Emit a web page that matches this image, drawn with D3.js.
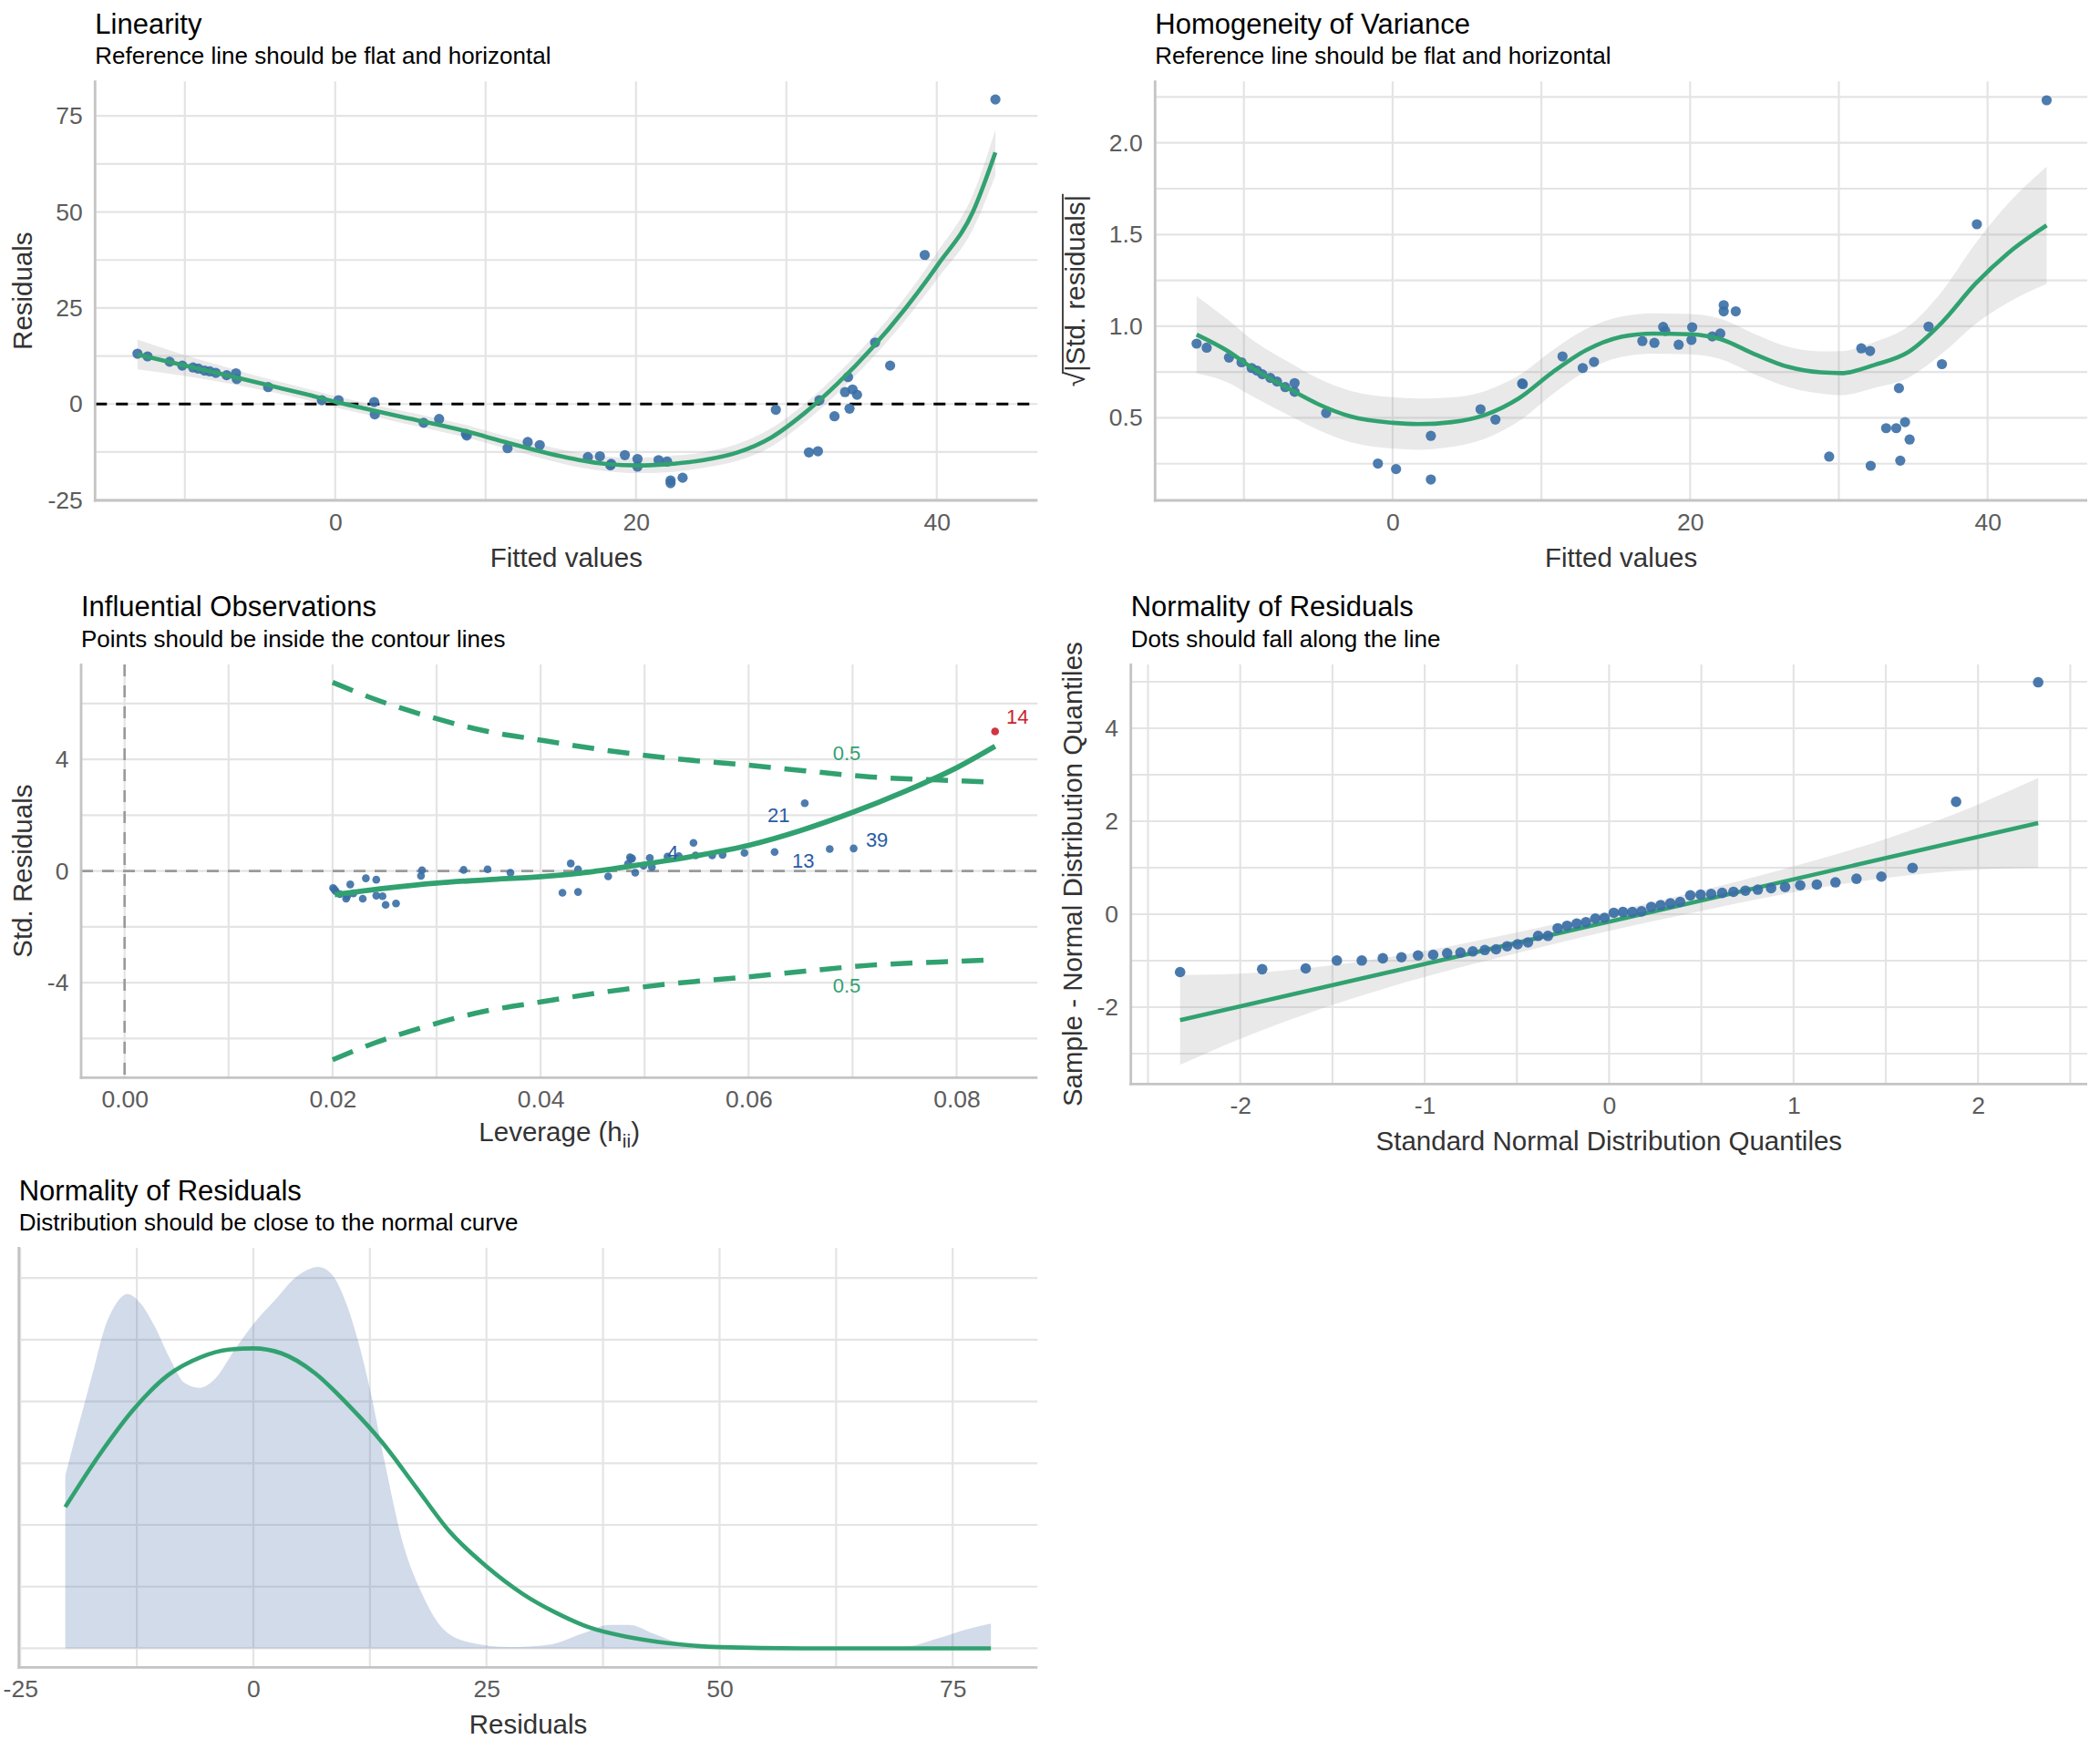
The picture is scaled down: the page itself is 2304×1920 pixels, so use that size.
<!DOCTYPE html>
<html><head><meta charset="utf-8">
<script src="https://cdn.jsdelivr.net/npm/d3@7"></script>
<style>body{margin:0;background:#fff}svg{display:block}</style>
</head><body>
<svg id="c" width="2304" height="1920"></svg>
<script>
// ---------- DATA ----------
// Panel 1: Linearity
const linFitted = [-13.15,-12.48,-11.01,-10.17,-9.45,-9.1,-8.69,-8.34,-7.94,-7.22,-6.6,-6.55,-4.46,-0.89,0.22,2.59,2.63,5.88,6.91,8.69,8.75,11.46,12.8,13.6,16.8,17.6,18.3,18.35,19.26,20.1,20.1,21.5,22.07,22.3,22.3,23.1,29.3,31.5,32.1,32.2,33.2,33.9,34.1,34.2,34.4,34.7,35.9,36.9,39.2,43.9];
const linResid = [13.1,12.4,11.0,10.0,9.5,9.2,8.7,8.5,8.1,7.5,8.0,6.5,4.4,1.0,1.0,0.5,-2.7,-4.9,-3.9,-7.8,-8.2,-11.5,-9.9,-10.7,-13.8,-13.6,-16.0,-15.6,-13.3,-14.3,-16.3,-14.6,-15.0,-19.9,-20.6,-19.2,-1.5,-12.6,-12.3,1.0,-3.2,3.1,7.0,-1.2,3.8,2.4,16.0,10.0,38.8,79.3];
const linSmX = [-13.15,-10,-7,-4.46,-2,0,2,4.46,6.5,8.9,11,13.4,15,16.5,18,20.1,22,24.5,26.75,29,31.2,33.4,35.7,37.9,40.1,42.4,43.9];
const linSmY = [12.9,10.0,7.3,4.9,2.6,0.6,-1.2,-3.4,-5.1,-7.3,-9.6,-12.1,-13.6,-14.8,-15.6,-16.0,-15.7,-14.6,-12.6,-8.7,-2.4,5.3,14.6,24.8,36.4,50.0,65.5];
const linSmLo = [9.0,7.3,5.3,3.3,1.1,-0.9,-2.7,-5.0,-6.7,-8.9,-11.2,-13.8,-15.4,-16.7,-17.5,-18.0,-17.8,-16.6,-14.8,-11.1,-4.8,2.8,11.9,21.8,32.9,45.5,59.5];
const linSmHi = [16.8,12.7,9.3,6.5,4.1,2.1,0.3,-1.8,-3.5,-5.7,-8.0,-10.4,-11.8,-12.9,-13.7,-14.0,-13.6,-12.6,-10.4,-6.3,0.0,7.8,17.3,27.8,39.9,54.5,71.4];
const linXTicks = [0,20,40], linXMinor = [-10,10,30];
const linYTicks = [-25,0,25,50,75], linYMinor = [-12.5,12.5,37.5,62.5];

// Panel 2: Homogeneity of variance
const homFitted = [-13.18,-12.5,-11.0,-10.16,-9.48,-9.12,-8.76,-8.22,-7.77,-7.22,-6.59,-6.59,-4.47,-0.99,0.23,2.57,2.57,5.91,6.91,8.71,8.75,11.42,12.78,13.54,16.79,17.6,18.19,18.33,19.23,20.09,20.14,21.49,22.03,22.26,22.26,23.07,29.35,31.51,32.1,32.14,33.18,33.86,34.04,34.13,34.45,34.76,36.03,36.93,39.28,43.97];
const homSqrt = [0.905,0.883,0.829,0.803,0.772,0.758,0.738,0.718,0.698,0.668,0.690,0.642,0.527,0.251,0.221,0.402,0.164,0.547,0.491,0.688,0.684,0.835,0.772,0.805,0.919,0.909,0.996,0.974,0.899,0.925,0.994,0.944,0.96,1.115,1.081,1.081,0.289,0.879,0.865,0.239,0.444,0.444,0.662,0.267,0.477,0.382,0.998,0.793,1.556,2.232];
const homSmX = [-13.18,-11,-9.57,-7,-5.06,-2.8,0,1.72,3.97,6.23,8.49,10.74,13,15.26,17.52,20,22.03,24.3,26.55,28.8,30.16,32.4,34.67,36.93,39.19,41.4,43.97];
const homSmY = [0.954,0.86,0.779,0.66,0.577,0.507,0.473,0.466,0.477,0.517,0.607,0.748,0.869,0.94,0.96,0.956,0.93,0.849,0.779,0.748,0.744,0.789,0.859,1.02,1.232,1.40,1.55];
const homSmLo = [0.744,0.69,0.624,0.515,0.437,0.367,0.333,0.326,0.342,0.387,0.482,0.628,0.754,0.83,0.85,0.846,0.82,0.739,0.669,0.633,0.624,0.664,0.719,0.85,1.012,1.13,1.23];
const homSmHi = [1.164,1.03,0.934,0.805,0.717,0.647,0.613,0.606,0.612,0.647,0.732,0.868,0.984,1.05,1.07,1.066,1.04,0.959,0.889,0.863,0.864,0.914,0.999,1.19,1.452,1.67,1.87];
const homYTicks = [0.5,1.0,1.5,2.0], homYMinor = [0.25,0.75,1.25,1.75,2.25];

// Panel 3: Influential observations
const infLev = [0.02005,0.0202,0.0203,0.0207,0.0213,0.0214,0.0217,0.022,0.0229,0.0232,0.0242,0.0242,0.0248,0.0251,0.0261,0.0285,0.0286,0.0326,0.0349,0.0371,0.0421,0.0429,0.0436,0.0436,0.0465,0.0484,0.0486,0.0487,0.0488,0.0491,0.0499,0.0505,0.0507,0.0522,0.0533,0.0547,0.0549,0.0565,0.0575,0.0596,0.0625,0.0654,0.0678,0.0701,0.0837];
const infStd = [-0.61,-0.67,-0.72,-0.83,-0.99,-0.90,-0.48,-0.80,-0.99,-0.26,-0.31,-0.88,-0.90,-1.21,-1.16,-0.17,0.03,0.04,0.06,-0.06,-0.78,0.27,-0.75,0.06,-0.19,0.26,0.49,0.43,0.45,-0.06,0.19,0.47,0.14,0.52,0.53,1.01,0.56,0.56,0.58,0.65,0.68,2.43,0.79,0.81,5.0];
const infFlag = infLev.map((d,i) => i === infLev.length - 1);
const infSmX = [0.0202,0.025,0.03,0.035,0.04,0.045,0.05,0.055,0.06,0.065,0.07,0.075,0.08,0.0837];
const infSmY = [-0.85,-0.62,-0.43,-0.31,-0.2,-0.02,0.25,0.55,0.92,1.45,2.1,2.85,3.7,4.47];
const cookLev = [0.02,0.0241,0.0293,0.0344,0.04,0.046,0.0525,0.06,0.0654,0.0718,0.0783,0.0837];
const cookUpper = [6.76,6.15,5.53,5.04,4.69,4.34,4.04,3.79,3.59,3.37,3.26,3.18];
const cookLower = [-6.76,-6.15,-5.53,-5.04,-4.69,-4.34,-4.04,-3.79,-3.59,-3.37,-3.26,-3.18];
const obsLabels = ["14","21","4","13","39"];
const obsLabLev = [0.08585,0.06288,0.0527,0.06525,0.07234];
const obsLabStd = [5.54,2.0,0.68,0.36,1.13];
const cookLabels = ["0.5","0.5"], cookLabLev = [0.06944,0.06944], cookLabStd = [4.23,-4.09];
const infXTicks = [0,0.02,0.04,0.06,0.08], infXMinor = [0.01,0.03,0.05,0.07];
const infYTicks = [-4,0,4], infYMinor = [-6,-2,2,6];

// Panel 4: QQ plot
const qqTheo = [-2.326,-1.881,-1.645,-1.476,-1.341,-1.227,-1.126,-1.036,-0.954,-0.878,-0.806,-0.739,-0.674,-0.613,-0.553,-0.496,-0.440,-0.385,-0.332,-0.279,-0.228,-0.176,-0.126,-0.075,-0.025,0.025,0.075,0.126,0.176,0.228,0.279,0.332,0.385,0.440,0.496,0.553,0.613,0.674,0.739,0.806,0.878,0.954,1.036,1.126,1.227,1.341,1.476,1.645,1.881,2.326];
const qqSample = [-1.245,-1.183,-1.167,-0.996,-0.996,-0.949,-0.926,-0.887,-0.872,-0.84,-0.825,-0.80,-0.77,-0.755,-0.69,-0.646,-0.607,-0.467,-0.467,-0.303,-0.249,-0.202,-0.171,-0.093,-0.078,0.031,0.047,0.047,0.062,0.156,0.195,0.233,0.265,0.405,0.42,0.436,0.459,0.482,0.506,0.529,0.56,0.584,0.623,0.638,0.685,0.763,0.809,0.996,2.42,4.99];
const qqLineX = [-2.326,2.326], qqLineY = [-2.28,1.96];
const qqBandX = [-2.326,-2,-1.5,-1,-0.5,0,0.5,1,1.5,2,2.326];
const qqBandLo = [-3.24,-2.68,-1.95,-1.35,-0.84,-0.36,0.07,0.47,0.78,0.96,1.0];
const qqBandHi = [-1.31,-1.28,-1.10,-0.79,-0.39,0.04,0.51,1.03,1.62,2.36,2.93];
const qqXTicks = [-2,-1,0,1,2], qqXMinor = [-2.5,-1.5,-0.5,0.5,1.5,2.5];
const qqYTicks = [-2,0,2,4], qqYMinor = [-3,-1,1,3,5];

// Panel 5: density of residuals
const densX = [-20.17,-19.24,-18.16,-17.09,-16.0,-14.9,-13.5,-12.06,-10.6,-8.83,-7.39,-5.8,-4.16,-2.0,0.14,2.3,4.45,5.89,6.96,8.4,9.83,11.27,12.7,14.14,15.9,18.1,20.2,23.1,27.4,31.7,35.3,38.2,40.3,42.9,45.4,49,55,62,69.8,73.4,76.3,79.1];
const densY = [0.0140,0.0167,0.0197,0.0227,0.0258,0.0277,0.0287,0.0279,0.0261,0.0233,0.0215,0.0211,0.0218,0.0242,0.0264,0.0282,0.0300,0.0307,0.0309,0.0303,0.0282,0.0248,0.0203,0.0149,0.0089,0.0044,0.0017,0.0005,0.0001,0.0003,0.0012,0.0019,0.0019,0.0012,0.0005,0.0001,0.0000,0.0000,0.0001,0.0008,0.0015,0.0020];
const normX = [-20.17,-16.4,-12.8,-9.2,-5.6,-2.7,0,3.0,6.6,10.2,13.8,17.4,21.0,25.05,28.9,32.4,36.0,40.3,44.7,50,59,79.1];
const normY = [0.01145,0.0158,0.0194,0.0221,0.0236,0.0242,0.0243,0.0239,0.0223,0.0197,0.0167,0.0131,0.0095,0.0066,0.0044,0.0029,0.0017,0.0009,0.0004,0.0001,0,0];
const denXTicks = [-25,0,25,50,75], denXMinor = [-12.5,12.5,37.5,62.5];
const denYGrid = [0,0.005,0.01,0.015,0.02,0.025,0.03];

// ---------- DRAWING ----------
const FONT = '"Liberation Sans", Arial, Helvetica, sans-serif';
const GREEN = '#31a170', BLUE = '#3a6ea5', RED = '#cc1f2c', LABBLUE = '#2a5ca4';
const svg = d3.select('#c');
svg.append('rect').attr('width',2304).attr('height',1920).attr('fill','#fff');

function panel(o) {
  const root = svg.append('g');
  const grid = root.append('g'), data = root.append('g'), axes = root.append('g');
  const x = d3.scaleLinear().domain(o.xd).range([o.l, o.r]);
  const y = d3.scaleLinear().domain(o.yd).range([o.b, o.t]);
  const gc = '#e4e4e4', gw = 2.2;
  grid.selectAll('line.gx').data(o.xg).join('line').attr('class','gx')
    .attr('x1', d => x(d)).attr('x2', d => x(d)).attr('y1', o.t).attr('y2', o.b)
    .attr('stroke', gc).attr('stroke-width', gw);
  grid.selectAll('line.gy').data(o.yg).join('line').attr('class','gy')
    .attr('y1', d => y(d)).attr('y2', d => y(d)).attr('x1', o.l).attr('x2', o.r)
    .attr('stroke', gc).attr('stroke-width', gw);
  const styleAxis = a => {
    a.select('.domain').remove();
    a.selectAll('.tick line').remove();
    a.attr('font-size', null).attr('font-family', null);
    a.selectAll('text').attr('font-size', 26.5).attr('font-family', FONT).attr('fill', '#5c5c5c');
  };
  if (o.xt) axes.append('g').attr('transform', `translate(0,${o.b})`)
    .call(d3.axisBottom(x).tickValues(o.xt).tickFormat(o.xf).tickSize(0).tickPadding(14.2)).call(styleAxis);
  if (o.yt) axes.append('g').attr('transform', `translate(${o.l},0)`)
    .call(d3.axisLeft(y).tickValues(o.yt).tickFormat(o.yf).tickSize(0).tickPadding(13.6)).call(styleAxis);
  axes.append('line').attr('x1', o.l).attr('x2', o.l).attr('y1', o.t - 1).attr('y2', o.b + 1.4)
    .attr('stroke', '#c4c4c4').attr('stroke-width', 2.8);
  axes.append('line').attr('x1', o.l - 1.4).attr('x2', o.r).attr('y1', o.b).attr('y2', o.b)
    .attr('stroke', '#c4c4c4').attr('stroke-width', 2.8);
  // titles
  root.append('text').attr('x', o.l).attr('y', o.tb).text(o.title)
    .attr('font-size', 31).attr('font-family', FONT).attr('fill', '#000');
  root.append('text').attr('x', o.l).attr('y', o.tb + 33.5).text(o.sub)
    .attr('font-size', 26).attr('font-family', FONT).attr('fill', '#000');
  if (o.xlab) {
    const t = root.append('text').attr('x', (o.l + o.r) / 2).attr('y', o.xlb)
      .attr('text-anchor', 'middle').attr('font-size', 29.5).attr('font-family', FONT).attr('fill', '#333');
    o.xlab(t);
  }
  if (o.ylab) {
    const t = root.append('text').attr('transform', `translate(${o.ylx},${(o.t + o.b) / 2}) rotate(-90)`)
      .attr('text-anchor', 'middle').attr('font-size', 29.5).attr('font-family', FONT).attr('fill', '#333').text(o.ylab);
  }
  return {data, x, y};
}
const str = d => String(d);

// ---- Panel 1 ----
{
  const p = panel({l:104.3, r:1138.3, t:89.3, b:549, xd:[-15.97,46.7], yd:[-25.1,84.0],
    xg: linXTicks.concat(linXMinor), yg: linYTicks.concat(linYMinor),
    xt: linXTicks, yt: linYTicks, xf: str, yf: str, tb: 36.7,
    title: 'Linearity', sub: 'Reference line should be flat and horizontal',
    xlb: 622, xlab: t => t.text('Fitted values'), ylx: 35, ylab: 'Residuals'});
  const idx = d3.range(linSmX.length);
  p.data.append('path').datum(idx)
    .attr('d', d3.area().x(i => p.x(linSmX[i])).y0(i => p.y(linSmLo[i])).y1(i => p.y(linSmHi[i])).curve(d3.curveMonotoneX))
    .attr('fill', '#999').attr('fill-opacity', 0.22);
  p.data.append('line').attr('x1', p.x.range()[0]).attr('x2', p.x.range()[1]).attr('y1', p.y(0)).attr('y2', p.y(0))
    .attr('stroke', '#000').attr('stroke-width', 2.8).attr('stroke-dasharray', '13,10');
  p.data.selectAll('circle').data(linFitted).join('circle')
    .attr('cx', d => p.x(d)).attr('cy', (d, i) => p.y(linResid[i])).attr('r', 5.6)
    .attr('fill', BLUE).attr('fill-opacity', 0.9);
  p.data.append('path').datum(idx)
    .attr('d', d3.line().x(i => p.x(linSmX[i])).y(i => p.y(linSmY[i])).curve(d3.curveMonotoneX))
    .attr('fill', 'none').attr('stroke', GREEN).attr('stroke-width', 4.6);
}

// ---- Panel 2 ----
{
  const p = panel({l:1267.3, r:2290, t:89.3, b:549, xd:[-15.97,46.7], yd:[0.05,2.335],
    xg: linXTicks.concat(linXMinor), yg: homYTicks.concat(homYMinor),
    xt: linXTicks, yt: homYTicks, xf: str, yf: d3.format('.1f'), tb: 36.7,
    title: 'Homogeneity of Variance', sub: 'Reference line should be flat and horizontal',
    xlb: 622, xlab: t => t.text('Fitted values')});
  const idx = d3.range(homSmX.length);
  p.data.append('path').datum(idx)
    .attr('d', d3.area().x(i => p.x(homSmX[i])).y0(i => p.y(homSmLo[i])).y1(i => p.y(homSmHi[i])).curve(d3.curveMonotoneX))
    .attr('fill', '#999').attr('fill-opacity', 0.22);
  p.data.selectAll('circle').data(homFitted).join('circle')
    .attr('cx', d => p.x(d)).attr('cy', (d, i) => p.y(homSqrt[i])).attr('r', 5.6)
    .attr('fill', BLUE).attr('fill-opacity', 0.9);
  p.data.append('path').datum(idx)
    .attr('d', d3.line().x(i => p.x(homSmX[i])).y(i => p.y(homSmY[i])).curve(d3.curveMonotoneX))
    .attr('fill', 'none').attr('stroke', GREEN).attr('stroke-width', 4.6);
  // y label with radical
  const yl = svg.append('g').attr('transform', 'translate(1190,319) rotate(-90)');
  const t1 = yl.append('text').text('√').attr('font-size', 29.5).attr('font-family', FONT).attr('fill', '#333');
  const t2 = yl.append('text').text('|Std. residuals|').attr('font-size', 29.5).attr('font-family', FONT).attr('fill', '#333');
  const w1 = t1.node().getComputedTextLength(), w2 = t2.node().getComputedTextLength();
  const s = -(w1 + w2) / 2;
  t1.attr('x', s); t2.attr('x', s + w1);
  yl.append('line').attr('x1', s + w1 - 2).attr('x2', s + w1 + w2 + 1).attr('y1', -24).attr('y2', -24)
    .attr('stroke', '#333').attr('stroke-width', 1.8);
}

// ---- Panel 3 ----
{
  const p = panel({l:89, r:1138.3, t:729, b:1182.3, xd:[-0.00418,0.08778], yd:[-7.4,7.4],
    xg: infXTicks.concat(infXMinor), yg: infYTicks.concat(infYMinor),
    xt: infXTicks, yt: infYTicks, xf: d3.format('.2f'), yf: str, tb: 676.4,
    title: 'Influential Observations', sub: 'Points should be inside the contour lines',
    xlb: 1252, xlab: t => { t.append('tspan').text('Leverage (h'); t.append('tspan').text('ii').attr('font-size', 21).attr('dy', 7); t.append('tspan').text(')').attr('dy', -7); },
    ylx: 35, ylab: 'Std. Residuals'});
  p.data.append('line').attr('x1', p.x(0)).attr('x2', p.x(0)).attr('y1', p.y.range()[1]).attr('y2', p.y.range()[0])
    .attr('stroke', '#9a9a9a').attr('stroke-width', 2.6).attr('stroke-dasharray', '13,10');
  p.data.append('line').attr('x1', p.x.range()[0]).attr('x2', p.x.range()[1]).attr('y1', p.y(0)).attr('y2', p.y(0))
    .attr('stroke', '#9a9a9a').attr('stroke-width', 2.6).attr('stroke-dasharray', '13,10');
  const ci = d3.range(cookLev.length);
  [cookUpper, cookLower].forEach(arr => {
    p.data.append('path').datum(ci)
      .attr('d', d3.line().x(i => p.x(cookLev[i])).y(i => p.y(arr[i])).curve(d3.curveMonotoneX))
      .attr('fill', 'none').attr('stroke', GREEN).attr('stroke-width', 5.5).attr('stroke-dasharray', '24,15');
  });
  p.data.selectAll('text.ck').data(cookLabels).join('text').attr('class', 'ck')
    .attr('x', (d, i) => p.x(cookLabLev[i])).attr('y', (d, i) => p.y(cookLabStd[i])).attr('dy', '0.35em')
    .attr('text-anchor', 'middle').attr('font-size', 22).attr('font-family', FONT).attr('fill', GREEN).text(d => d);
  p.data.selectAll('circle').data(infLev).join('circle')
    .attr('cx', d => p.x(d)).attr('cy', (d, i) => p.y(infStd[i])).attr('r', 4.3)
    .attr('fill', (d, i) => infFlag[i] ? RED : BLUE).attr('fill-opacity', 0.9);
  const si = d3.range(infSmX.length);
  p.data.append('path').datum(si)
    .attr('d', d3.line().x(i => p.x(infSmX[i])).y(i => p.y(infSmY[i])).curve(d3.curveMonotoneX))
    .attr('fill', 'none').attr('stroke', GREEN).attr('stroke-width', 5.8);
  p.data.selectAll('text.ob').data(obsLabels).join('text').attr('class', 'ob')
    .attr('x', (d, i) => p.x(obsLabLev[i])).attr('y', (d, i) => p.y(obsLabStd[i])).attr('dy', '0.35em')
    .attr('text-anchor', 'middle').attr('font-size', 22).attr('font-family', FONT)
    .attr('fill', (d, i) => i === 0 ? RED : LABBLUE).text(d => d);
}

// ---- Panel 4 ----
{
  const p = panel({l:1240.7, r:2290, t:729, b:1189.3, xd:[-2.593,2.592], yd:[-3.653,5.373],
    xg: qqXTicks.concat(qqXMinor), yg: qqYTicks.concat(qqYMinor),
    xt: qqXTicks, yt: qqYTicks, xf: str, yf: str, tb: 676.4,
    title: 'Normality of Residuals', sub: 'Dots should fall along the line',
    xlb: 1262, xlab: t => t.text('Standard Normal Distribution Quantiles'),
    ylx: 1187, ylab: 'Sample - Normal Distribution Quantiles'});
  const bi = d3.range(qqBandX.length);
  p.data.append('path').datum(bi)
    .attr('d', d3.area().x(i => p.x(qqBandX[i])).y0(i => p.y(qqBandLo[i])).y1(i => p.y(qqBandHi[i])).curve(d3.curveMonotoneX))
    .attr('fill', '#999').attr('fill-opacity', 0.22);
  p.data.append('line').attr('x1', p.x(qqLineX[0])).attr('x2', p.x(qqLineX[1])).attr('y1', p.y(qqLineY[0])).attr('y2', p.y(qqLineY[1]))
    .attr('stroke', GREEN).attr('stroke-width', 4.6);
  p.data.selectAll('circle').data(qqTheo).join('circle')
    .attr('cx', d => p.x(d)).attr('cy', (d, i) => p.y(qqSample[i])).attr('r', 5.8)
    .attr('fill', BLUE).attr('fill-opacity', 0.92);
}

// ---- Panel 5 ----
{
  const p = panel({l:20.7, r:1138.3, t:1369, b:1829.3, xd:[-25.15,84.1], yd:[-0.00154,0.03245],
    xg: denXTicks.concat(denXMinor), yg: denYGrid,
    xt: denXTicks, xf: str, tb: 1316.6,
    title: 'Normality of Residuals', sub: 'Distribution should be close to the normal curve',
    xlb: 1902, xlab: t => t.text('Residuals')});
  const di = d3.range(densX.length);
  p.data.append('path').datum(di)
    .attr('d', d3.area().x(i => p.x(densX[i])).y0(p.y(0)).y1(i => p.y(densY[i])).curve(d3.curveMonotoneX))
    .attr('fill', '#4671a6').attr('fill-opacity', 0.25);
  const ni = d3.range(normX.length);
  p.data.append('path').datum(ni)
    .attr('d', d3.line().x(i => p.x(normX[i])).y(i => p.y(normY[i])).curve(d3.curveMonotoneX))
    .attr('fill', 'none').attr('stroke', GREEN).attr('stroke-width', 4.6);
}
</script>
</body></html>
